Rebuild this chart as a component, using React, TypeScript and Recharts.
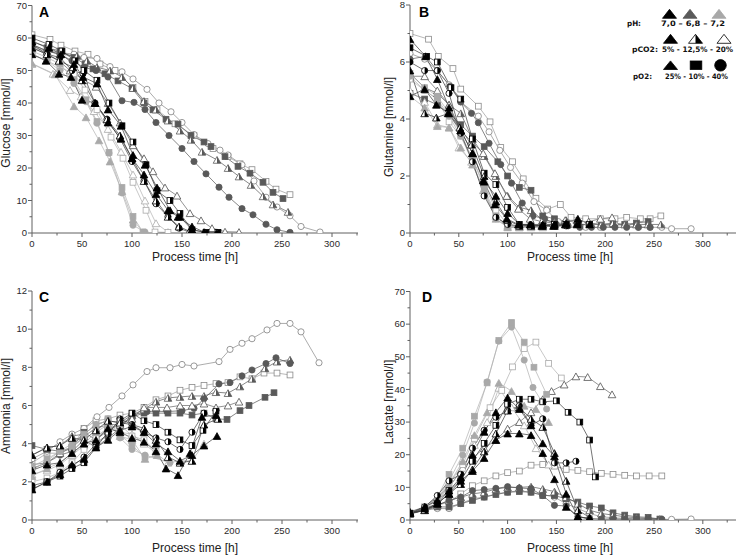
import React from 'react';
import { LineChart, Line, XAxis, YAxis } from 'recharts';

type P = [number, number];

// ---------- A: Glucose ----------
const A_openCirc: P[] = [[0,57],[15,56],[29,55.5],[42,55],[52,54],[65,53.7],[78,51.2],[90,49.6],[101,47.4],[115,44.2],[127,40],[139,37.3],[150,34],[162,30.3],[176,27.5],[188,25.5],[196,24],[210,21],[222,16],[234,11],[245,8],[258,5.3],[269,2],[288,0.3]];
const A_lgOpenSqSlow: P[] = [[0,61],[18,59.6],[29,57.8],[43,56],[56,55],[68,52],[83,50],[101,44.8],[113,40.5],[125,37.9],[143,33.6],[162,30],[181,26],[196,23.5],[208,21.3],[220,19.5],[234,15.9],[244,13.5],[258,11.8]];
const A_dgSq: P[] = [[0,59],[15,57],[28,56],[42,54],[53,52],[61,50.5],[73,49],[86,46.8],[100,44.5],[112,40],[121,37.9],[134,35],[146,33.5],[159,30],[172,28],[179,26.6],[193,23.5],[206,20.5],[218,18.4],[231,15.6],[241,12.5],[251,10.6]];
const A_dgCirc: P[] = [[0,58],[15,56],[28,55],[40,53],[52,51],[64,50],[76,48],[90,40.7],[102,40.2],[113,38],[124,34],[137,30],[150,26],[162,22],[174,18.2],[187,14.1],[197,11],[210,7.5],[221,5.6],[234,2.7],[245,1],[258,0.2]];
const A_dgHalfTri: P[] = [[0,58],[15,56],[28,55],[45,54.5],[55,53],[65,51],[78,50],[90,48],[101,44.6],[112,40.6],[124,38],[136,34.6],[148,31.5],[159,28.7],[170,25],[185,22.5],[196,20],[207,17.4],[219,14.8],[231,11.3],[241,8.8],[256,6.5]];
const A_dgOpenTri: P[] = [[0,57],[15,55],[27,53],[38,50],[52,47],[64,45],[76,40],[88,34],[101,27],[112,23],[121,19],[133,14],[145,11.5],[158,6.1],[169,3.9],[180,1.5],[193,0.4],[207,0.3]];
const A_lgOpenTri: P[] = [[0,52],[21,49],[38,44],[49,42],[62,37.5],[76,32],[89,25],[101,18],[113,10],[124,3],[136,0.3]];
const A_lgOpenSq: P[] = [[0,55],[15,53],[28,51],[42,49],[53,44],[65,38],[79,29.5],[91,23],[101,15.6],[114,7],[123,0.3],[136,0.2]];
const A_lgTri: P[] = [[0,52.2],[23,48.8],[42,39],[54,35.6],[67,28.5],[78,22],[90,12.8],[101,4.1],[111,0.3]];
const A_lgCirc: P[] = [[0,55],[15,53],[28,50],[42,46],[54,40.4],[65,33.8],[77,24.6],[90,12.3],[101,2.4],[113,0.3]];
const A_lgSq: P[] = [[0,56],[15,54],[28,52],[42,47],[54,41],[65,34.3],[77,24.8],[90,14],[101,5.1],[111,0.3]];
const A_blkTri: P[] = [[0,59],[17,57],[29,55],[42,52],[51,48],[65,46],[76,38],[89,33],[101,24],[113,21],[125,14],[138,7],[148,5],[160,1],[173,0.2]];
const A_blkTri2: P[] = [[0,55],[14,53],[27,49],[39,48],[50,41],[63,40],[76,34],[89,29],[100,23],[112,18],[124,12],[136,7],[146,5],[160,2],[172,0.3],[185,0.2]];
const A_blkHalfTri: P[] = [[0,57],[15,55],[27,53],[41,51],[50,47],[63,40],[75,35],[88,30],[100,23],[112,16],[124,10],[136,5],[147,2],[159,0.3]];
const A_blkHalfSq: P[] = [[0,60],[17,58],[30,56],[43,53],[52,50],[65,47],[77,40],[90,33],[101,28],[114,21],[125,13],[138,10],[148,6],[160,1],[174,0.2],[186,0.2]];
const A_blkHalfCirc: P[] = [[0,58],[15,55],[28,54],[40,50],[51,49],[63,40],[75,35],[88,29],[100,22],[112,16],[124,9],[136,5],[147,1.5],[158,0.2]];

// ---------- B: Glutamine ----------
const B_lgOpenSqSlow: P[] = [[0,7.0],[19,6.8],[29,6.2],[44,5.77],[52,5.05],[70,4.45],[82,3.9],[93,3.0],[105,2.5],[116,1.9],[129,1.22],[141,0.84],[154,1.0],[165,0.55],[180,0.5],[195,0.5],[210,0.5],[222,0.55],[236,0.5],[246,0.5],[257,0.6]];
const B_openCirc: P[] = [[0,6.3],[15,6.1],[28,5.7],[40,5.2],[52,4.6],[70,4.1],[81,3.55],[92,2.9],[103,2.3],[115,1.75],[127,1.1],[140,0.8],[152,0.4],[165,0.3],[180,0.2],[195,0.2],[210,0.3],[222,0.25],[234,0.2],[246,0.2],[258,0.2],[268,0.15],[288,0.15]];
const B_dgCirc: P[] = [[0,6.1],[16,6.2],[28,5.7],[41,5.15],[52,4.6],[63,4.2],[70,3.87],[81,3.15],[93,2.4],[104,1.75],[115,1.05],[126,0.6],[138,0.5],[150,0.3],[162,0.25],[174,0.2],[186,0.2],[198,0.2],[210,0.2],[222,0.2],[234,0.2],[246,0.2]];
const B_dgSq: P[] = [[0,4.9],[15,4.7],[28,4.5],[40,4.2],[52,3.8],[64,3.4],[76,3.03],[90,2.5],[100,2.0],[112,1.6],[124,1.5],[136,0.6],[148,0.5],[160,0.35],[172,0.3],[184,0.3],[196,0.3],[208,0.3],[220,0.3],[232,0.35],[244,0.4]];
const B_dgHalfTri: P[] = [[0,5.6],[15,5.1],[28,4.9],[40,4.5],[52,4.2],[64,3.3],[76,2.7],[88,2.0],[100,1.3],[112,0.9],[124,0.8],[136,0.45],[148,0.4],[160,0.45],[172,0.45],[184,0.35],[196,0.3],[208,0.35],[220,0.3],[232,0.3],[244,0.3],[257,0.3]];
const B_dgOpenTri: P[] = [[0,5.5],[15,5.5],[28,5.0],[40,4.5],[52,3.6],[63,3.2],[75,2.8],[87,2.1],[99,1.3],[111,0.85],[123,0.5],[135,0.4],[147,0.35],[159,0.45],[171,0.45],[183,0.4],[195,0.5],[207,0.55]];
const B_lgOpenTri: P[] = [[0,5.0],[15,4.6],[28,3.8],[40,3.7],[50,3.0],[63,2.5],[75,1.5],[88,0.6],[100,0.25],[112,0.2],[124,0.2],[136,0.2]];
const B_lgOpenSq: P[] = [[0,5.4],[15,5.0],[28,4.7],[40,3.9],[52,3.4],[64,2.6],[76,1.7],[88,0.8],[100,0.3],[112,0.2],[124,0.2],[136,0.2]];
const B_lgTri: P[] = [[0,4.8],[15,4.4],[28,3.75],[40,3.7],[52,3.0],[64,2.4],[76,1.5],[88,0.5],[100,0.2],[112,0.2]];
const B_lgCirc: P[] = [[0,5.5],[15,5.0],[28,4.7],[40,4.1],[52,3.4],[64,2.5],[76,1.4],[88,0.5],[100,0.2],[112,0.2]];
const B_lgSq: P[] = [[0,5.6],[15,5.1],[28,4.8],[40,4.2],[52,3.5],[64,2.6],[76,1.6],[88,0.6],[100,0.2],[112,0.2]];
const B_blkTri: P[] = [[0,6.8],[16,6.2],[28,5.4],[40,4.4],[52,3.6],[64,2.8],[76,1.8],[88,1.3],[100,0.7],[112,0.3],[124,0.3],[136,0.3],[148,0.3],[160,0.35],[172,0.5],[184,0.3]];
const B_blkTri2: P[] = [[0,4.8],[15,5.05],[27,4.5],[39,4.2],[52,3.6],[64,2.8],[75,1.85],[87,1.0],[99,0.5],[111,0.3],[123,0.3],[135,0.25],[147,0.25],[159,0.3],[171,0.3]];
const B_blkHalfTri: P[] = [[0,5.7],[15,4.2],[27,4.05],[40,4.2],[51,3.7],[63,3.1],[76,2.0],[88,1.1],[100,0.45],[112,0.25],[124,0.25],[136,0.25],[148,0.25],[160,0.3]];
const B_blkHalfSq: P[] = [[0,6.5],[17,6.2],[28,6.0],[42,5.1],[52,4.7],[64,3.3],[76,2.1],[88,1.7],[100,0.9],[112,0.3],[124,0.25],[136,0.25],[148,0.3],[160,0.3],[172,0.3],[184,0.3]];
const B_blkHalfCirc: P[] = [[0,6.0],[15,5.7],[28,5.7],[40,4.9],[52,3.5],[64,2.5],[76,1.3],[88,0.55],[100,0.3],[112,0.25],[124,0.25],[136,0.25],[148,0.25],[160,0.25]];

// ---------- C: Ammonia ----------
const C_openCirc: P[] = [[0,3.2],[15,3.6],[28,4.1],[40,4.5],[52,4.8],[65,5.41],[77,5.9],[90,6.5],[101,7.08],[115,7.78],[124,7.98],[138,7.98],[150,8.15],[162,8.07],[187,8.3],[198,8.94],[210,9.26],[220,9.5],[235,9.96],[245,10.3],[258,10.3],[269,9.86],[287,8.24]];
const C_dgCirc: P[] = [[0,2.7],[15,3.0],[28,3.4],[40,3.6],[52,4.2],[64,3.8],[76,4.3],[88,4.8],[100,5.5],[115,5.68],[124,5.7],[135,5.68],[150,5.73],[162,5.85],[172,6.35],[187,7.13],[198,7.2],[210,7.55],[220,7.86],[234,8.2],[244,8.5],[258,8.2]];
const C_dgSq: P[] = [[0,3.9],[15,3.7],[28,3.6],[40,3.8],[52,4.6],[64,4.2],[76,4.7],[88,5.0],[100,5.4],[112,5.6],[124,5.6],[136,5.6],[148,5.6],[160,5.5],[172,5.6],[184,5.3],[195,5.27],[208,5.73],[217,6.0],[233,6.43],[242,6.67]];
const C_lgOpenSqSlow: P[] = [[0,3.0],[15,3.5],[28,3.5],[40,3.8],[52,4.8],[64,5.2],[76,5.3],[88,5.5],[100,5.6],[112,5.9],[124,6.3],[136,6.5],[148,6.8],[160,6.95],[172,7.05],[184,7.15],[196,7.2],[208,7.5],[220,7.4],[232,7.7],[245,7.7],[258,7.6]];
const C_dgHalfTri: P[] = [[0,3.4],[15,3.8],[28,3.9],[40,4.4],[52,4.5],[64,5.0],[76,5.2],[88,5.1],[100,5.5],[112,5.8],[124,6.2],[136,6.4],[148,6.45],[160,6.5],[172,6.5],[184,6.7],[196,6.65],[208,7.0],[220,7.4],[233,7.95],[245,8.3],[258,8.4]];
const C_dgOpenTri: P[] = [[0,2.9],[15,3.0],[28,3.5],[40,3.8],[52,4.4],[64,4.8],[76,5.0],[88,5.0],[100,5.3],[112,5.9],[124,5.9],[135,5.9],[148,6.0],[160,6.0],[172,6.1],[184,5.9],[196,6.0],[207,6.2]];
const C_lgCirc: P[] = [[0,2.6],[15,3.1],[28,3.6],[40,3.8],[52,4.3],[64,4.9],[76,5.3],[88,4.3],[100,3.7],[113,3.4],[138,3.0]];
const C_lgSq: P[] = [[0,2.8],[15,3.2],[28,3.6],[40,4.0],[52,4.5],[64,5.0],[76,5.2],[88,4.5],[100,3.9],[113,3.3]];
const C_lgTri: P[] = [[0,2.3],[15,2.7],[28,3.0],[40,3.5],[52,4.0],[64,4.6],[76,5.0],[88,4.4],[100,4.2],[113,3.2],[125,3.4]];
const C_lgOpenSq: P[] = [[0,2.0],[15,2.2],[28,2.5],[40,3.0],[52,3.7],[64,4.3],[76,4.8],[88,5.0],[100,4.4],[112,4.2],[124,3.6]];
const C_lgOpenTri: P[] = [[0,2.4],[15,2.6],[28,2.9],[40,3.4],[52,3.9],[64,4.4],[76,4.8],[88,4.6],[100,4.5],[112,4.0],[124,3.5],[136,3.0],[148,3.1],[160,3.1],[172,4.0]];
const C_blkTri: P[] = [[0,2.6],[15,2.9],[28,3.0],[40,3.5],[52,4.0],[64,4.2],[76,4.8],[88,4.6],[100,4.3],[112,4.1],[124,3.6],[134,2.7],[146,2.35],[158,3.5],[170,5.4],[184,5.5]];
const C_blkTri2: P[] = [[0,1.6],[15,2.0],[28,2.4],[40,2.9],[52,3.2],[64,3.8],[76,4.2],[88,4.7],[100,4.9],[112,4.6],[124,4.0],[136,3.6],[148,3.1],[160,3.4],[172,3.9],[185,4.4]];
const C_blkHalfTri: P[] = [[0,3.4],[15,3.8],[28,3.9],[40,4.3],[52,4.2],[64,4.7],[76,5.2],[88,5.1],[100,5.0],[112,4.8],[124,4.2],[136,3.3],[148,3.0],[160,3.1],[172,5.0],[186,5.3]];
const C_blkHalfSq: P[] = [[0,1.6],[15,2.0],[28,2.3],[40,2.7],[52,3.0],[64,3.8],[76,4.6],[88,5.2],[100,5.6],[112,5.2],[124,5.0],[136,4.6],[148,4.2],[160,3.9],[171,4.7],[184,5.7]];
const C_blkHalfCirc: P[] = [[0,1.8],[15,2.0],[28,2.5],[40,2.8],[52,3.3],[64,4.0],[76,4.5],[88,5.3],[100,5.0],[112,4.6],[124,4.3],[136,4.1],[148,3.7],[160,4.6],[172,5.6]];

// ---------- D: Lactate ----------
const D_dgCirc: P[] = [[0,2],[15,3],[28,4.5],[40,6],[52,7],[64,9],[76,9.3],[88,9.7],[100,10.2],[112,9.8],[124,9.6],[136,7.5],[148,4.5],[160,4.3],[172,1],[184,0.5],[196,0.3],[208,0.3],[220,0.3],[232,0.3],[244,0.3],[258,0.2]];
const D_dgSq: P[] = [[0,1.8],[15,3],[28,4],[40,4],[52,5],[64,6],[76,7],[88,7.8],[100,8.5],[112,8.7],[124,8.5],[136,7.5],[148,7.5],[160,6.5],[172,5.5],[184,4.3],[196,3.7],[208,2.2],[220,1.5],[232,1],[244,0.8],[256,0.3]];
const D_dgHalfTri: P[] = [[0,2],[15,3],[28,4.5],[40,6],[52,7],[64,8],[76,8.5],[88,9.5],[100,10],[112,10],[124,10.2],[136,9.5],[148,8.7],[160,7],[172,5],[184,3],[196,2],[208,1.5],[220,1],[232,0.7],[244,0.5],[256,0.3]];
const D_openCirc: P[] = [[0,2],[15,3],[28,3.5],[40,3.5],[52,5],[64,6.5],[76,7],[88,8],[100,8.5],[112,9],[124,8.5],[136,7.8],[148,7],[160,5],[172,3.5],[184,2],[196,1],[208,0.7],[220,0.5],[232,0.3],[244,0.3],[258,0.2],[268,0.2],[288,0.3]];
const D_lgOpenSqSlow: P[] = [[0,2],[15,3.5],[28,4.5],[40,5.5],[52,8],[64,10.5],[76,12],[88,13.5],[100,14.5],[112,15],[124,16.8],[136,17],[148,16.5],[160,15.5],[172,15.2],[184,14.8],[196,14.3],[208,14],[220,13.7],[232,13.5],[245,13.5],[258,13.5]];
const D_dgOpenTri: P[] = [[0,2],[15,4],[28,7],[40,10],[52,15],[64,19],[76,22],[88,24.5],[100,28],[112,30],[124,33],[136,37],[145,39.5],[158,41.5],[170,44],[182,43.8],[195,41],[207,38.5]];
const D_lgSq: P[] = [[0,2.2],[15,4],[28,7],[40,14],[54,22],[66,31.8],[79,42],[91,55],[104,60.5],[117,54.5],[127,46.8],[140,38.5]];
const D_lgCirc: P[] = [[0,2],[15,4],[28,6.5],[40,12],[54,19.9],[66,29.7],[79,42.3],[91,54.8],[104,59.1],[117,49],[126,40.6],[140,34]];
const D_lgOpenSq: P[] = [[0,2],[15,4],[28,6],[40,11],[54,17],[66,25],[82,34.4],[94,39.7],[105,46.9],[117,52.5],[129,54.5],[142,48],[155,43.5]];
const D_lgTri: P[] = [[0,2],[15,4],[28,6.5],[40,11],[54,18],[66,26],[79,33],[91,42],[104,39.5],[117,35],[129,34],[142,30]];
const D_lgOpenTri: P[] = [[0,2],[15,3.5],[28,6],[40,10],[54,16],[66,23],[79,30],[91,40.5],[104,34.5],[117,29],[129,22],[142,17]];
const D_blkHalfSq: P[] = [[0,2],[15,3],[28,5],[40,9],[52,12],[64,18],[76,23.5],[88,29],[100,35.5],[112,37],[124,37],[136,36.2],[150,36.5],[162,33],[174,30],[184,24.5],[190,13.2]];
const D_blkTri: P[] = [[0,2],[15,3.5],[28,5],[40,8],[52,12],[64,15],[76,19],[88,24.5],[100,26.5],[112,26.5],[124,26],[136,20.5],[148,12.5],[160,4],[172,1],[184,0.5]];
const D_blkTri2: P[] = [[0,2.5],[15,4],[28,6],[40,9],[52,13],[64,20],[76,27],[88,33],[100,37.5],[112,34],[124,29],[136,23.5],[148,19.5],[160,8],[172,1],[184,0.3]];
const D_blkHalfTri: P[] = [[0,2.2],[15,3],[28,5],[40,8],[52,11],[64,15.5],[76,21],[88,26.5],[100,33.5],[112,34.5],[124,31],[136,28.5],[148,20.5],[160,12],[172,3],[184,0.8]];
const D_blkHalfCirc: P[] = [[0,2],[15,4],[28,7.5],[40,12],[52,14],[64,22],[76,27.5],[88,31.5],[100,33.5],[112,35],[124,29],[136,31],[148,17.5],[160,17.5],[170,18]];

// ---------- ticks / labels ----------
const xTicks = [0, 25, 50, 75, 100, 125, 150, 175, 200, 225, 250, 275, 300, 325];
const ticksA = [0, 5, 10, 15, 20, 25, 30, 35, 40, 45, 50, 55, 60, 65, 70];
const ticksB = [0, 1, 2, 3, 4, 5, 6, 7, 8];
const ticksC = [0, 1, 2, 3, 4, 5, 6, 7, 8, 9, 10, 11, 12];
const ticksD = ticksA;
const xTitle = 'Process time [h]';

const FONT = '"Liberation Sans", Arial, Helvetica, sans-serif';
const BLK = '#000000';
const DG = '#595959';
const LG = '#a9a9a9';
const OG = '#808080';
const AX = '#606060';

type Shape = 'tri' | 'sq' | 'circ';
type Fill = 'full' | 'half' | 'open';
type Sty = { shape: Shape; fill: Fill; color: string; line: string };

const STY: Record<string, Sty> = {
  blkTri: { shape: 'tri', fill: 'full', color: BLK, line: '#3a3a3a' },
  blkTri2: { shape: 'tri', fill: 'full', color: BLK, line: '#3a3a3a' },
  blkHalfTri: { shape: 'tri', fill: 'half', color: BLK, line: '#3a3a3a' },
  blkHalfSq: { shape: 'sq', fill: 'half', color: BLK, line: '#3a3a3a' },
  blkHalfCirc: { shape: 'circ', fill: 'half', color: BLK, line: '#3a3a3a' },
  dgCirc: { shape: 'circ', fill: 'full', color: DG, line: '#555' },
  dgSq: { shape: 'sq', fill: 'full', color: DG, line: '#555' },
  dgHalfTri: { shape: 'tri', fill: 'half', color: DG, line: '#555' },
  dgOpenTri: { shape: 'tri', fill: 'open', color: '#505050', line: '#666' },
  lgCirc: { shape: 'circ', fill: 'full', color: LG, line: '#b0b0b0' },
  lgSq: { shape: 'sq', fill: 'full', color: LG, line: '#b0b0b0' },
  lgTri: { shape: 'tri', fill: 'full', color: LG, line: '#b0b0b0' },
  lgOpenSq: { shape: 'sq', fill: 'open', color: LG, line: '#b0b0b0' },
  lgOpenTri: { shape: 'tri', fill: 'open', color: LG, line: '#b0b0b0' },
  lgOpenSqSlow: { shape: 'sq', fill: 'open', color: '#8a8a8a', line: '#999' },
  openCirc: { shape: 'circ', fill: 'open', color: OG, line: '#888' },
};

function drawShape(shape: Shape, fill: Fill, color: string, cx: number, cy: number, hw: number, hh: number, key?: any) {
  const sw = 0.8;
  const main = fill === 'full' ? color : '#ffffff';
  let base: any = null;
  let half: any = null;
  if (shape === 'tri') {
    const top = cy - hh;
    const bot = cy + hh;
    base = <polygon points={`${cx},${top} ${cx + hw},${bot} ${cx - hw},${bot}`} fill={main} stroke={color} strokeWidth={sw} strokeLinejoin="miter" />;
    if (fill === 'half') half = <polygon points={`${cx},${top} ${cx + hw},${bot} ${cx},${bot}`} fill={color} stroke="none" />;
  } else if (shape === 'sq') {
    base = <rect x={cx - hw} y={cy - hh} width={2 * hw} height={2 * hh} fill={main} stroke={color} strokeWidth={sw} />;
    if (fill === 'half') half = <rect x={cx} y={cy - hh} width={hw} height={2 * hh} fill={color} stroke="none" />;
  } else {
    base = <circle cx={cx} cy={cy} r={hw} fill={main} stroke={color} strokeWidth={sw} />;
    if (fill === 'half') half = <path d={`M${cx},${cy - hw} A${hw},${hw} 0 0 1 ${cx},${cy + hw} Z`} fill={color} stroke="none" />;
  }
  return (
    <g key={key}>
      {base}
      {half}
    </g>
  );
}

function markerDims(shape: Shape): [number, number] {
  if (shape === 'tri') return [3.8, 3.4];
  if (shape === 'sq') return [2.9, 2.9];
  return [3.1, 3.1];
}

type Series = { id: string; style: string; pts: P[] };

function XTick(props: any) {
  const { x, y, payload } = props;
  const v = payload.value;
  const major = v % 50 === 0;
  return (
    <g>
      <line x1={x} x2={x} y1={y} y2={y + (major ? 4 : 2.5)} stroke={AX} strokeWidth={1} />
      {major && (
        <text x={x} y={y + 14} textAnchor="middle" fontSize={9.5} fill="#2a2a2a" fontFamily={FONT}>
          {v}
        </text>
      )}
    </g>
  );
}

function makeYTick(majorStep: number) {
  return function YTick(props: any) {
    const { x, y, payload } = props;
    const v = payload.value;
    const major = Math.abs(v / majorStep - Math.round(v / majorStep)) < 1e-6;
    return (
      <g>
        <line x1={x} x2={x - (major ? 4 : 2.5)} y1={y} y2={y} stroke={AX} strokeWidth={1} />
        {major && (
          <text x={x - 5} y={y} dy="0.35em" textAnchor="end" fontSize={9.5} fill="#2a2a2a" fontFamily={FONT}>
            {v}
          </text>
        )}
      </g>
    );
  };
}

type PanelProps = {
  left: number;
  top: number;
  width: number;
  height: number;
  marginTop: number;
  marginRight: number;
  xAxisHeight: number;
  xMax: number;
  yMax: number;
  yTicks: number[];
  yMajor: number;
  series: Series[];
};

function Panel(p: PanelProps) {
  const YT = makeYTick(p.yMajor);
  return (
    <div style={{ position: 'absolute', left: p.left, top: p.top, width: p.width, height: p.height }}>
      <LineChart width={p.width} height={p.height} margin={{ top: p.marginTop, right: p.marginRight, bottom: 0, left: 0 }}>
        <XAxis
          type="number"
          dataKey="x"
          domain={[0, p.xMax]}
          ticks={xTicks}
          interval={0}
          tickSize={0}
          tickMargin={0}
          tickLine={false}
          axisLine={{ stroke: AX, strokeWidth: 1 }}
          tick={<XTick />}
          height={p.xAxisHeight}
          allowDataOverflow
        />
        <YAxis
          type="number"
          dataKey="y"
          domain={[0, p.yMax]}
          ticks={p.yTicks}
          interval={0}
          tickSize={0}
          tickMargin={0}
          tickLine={false}
          axisLine={{ stroke: AX, strokeWidth: 1 }}
          tick={<YT />}
          width={32}
          allowDataOverflow
        />
        {p.series.map((s) => {
          const st = STY[s.style];
          const [hw, hh] = markerDims(st.shape);
          const data = s.pts.map(([x, y]) => ({ x, y }));
          return (
            <Line
              key={s.id}
              name={s.id}
              data={data}
              dataKey="y"
              type="linear"
              stroke={st.line}
              strokeWidth={0.7}
              isAnimationActive={false}
              activeDot={false}
              legendType="none"
              dot={(dp: any) => {
                if (dp.cx == null || dp.cy == null) return <g key={`${s.id}-${dp.index}`} />;
                return drawShape(st.shape, st.fill, st.color, dp.cx, dp.cy, hw, hh, `${s.id}-${dp.index}`);
              }}
            />
          );
        })}
      </LineChart>
    </div>
  );
}

const seriesA: Series[] = [
  { id: 'a1', style: 'lgOpenSqSlow', pts: A_lgOpenSqSlow },
  { id: 'a2', style: 'openCirc', pts: A_openCirc },
  { id: 'a3', style: 'dgSq', pts: A_dgSq },
  { id: 'a4', style: 'dgHalfTri', pts: A_dgHalfTri },
  { id: 'a5', style: 'dgCirc', pts: A_dgCirc },
  { id: 'a6', style: 'dgOpenTri', pts: A_dgOpenTri },
  { id: 'a7', style: 'lgOpenTri', pts: A_lgOpenTri },
  { id: 'a8', style: 'lgOpenSq', pts: A_lgOpenSq },
  { id: 'a9', style: 'lgTri', pts: A_lgTri },
  { id: 'a10', style: 'lgCirc', pts: A_lgCirc },
  { id: 'a11', style: 'lgSq', pts: A_lgSq },
  { id: 'a12', style: 'blkHalfCirc', pts: A_blkHalfCirc },
  { id: 'a13', style: 'blkHalfSq', pts: A_blkHalfSq },
  { id: 'a14', style: 'blkHalfTri', pts: A_blkHalfTri },
  { id: 'a15', style: 'blkTri2', pts: A_blkTri2 },
  { id: 'a16', style: 'blkTri', pts: A_blkTri },
];

const seriesB: Series[] = [
  { id: 'b1', style: 'lgOpenSqSlow', pts: B_lgOpenSqSlow },
  { id: 'b2', style: 'openCirc', pts: B_openCirc },
  { id: 'b3', style: 'dgSq', pts: B_dgSq },
  { id: 'b4', style: 'dgHalfTri', pts: B_dgHalfTri },
  { id: 'b5', style: 'dgCirc', pts: B_dgCirc },
  { id: 'b6', style: 'dgOpenTri', pts: B_dgOpenTri },
  { id: 'b7', style: 'lgOpenTri', pts: B_lgOpenTri },
  { id: 'b8', style: 'lgOpenSq', pts: B_lgOpenSq },
  { id: 'b9', style: 'lgTri', pts: B_lgTri },
  { id: 'b10', style: 'lgCirc', pts: B_lgCirc },
  { id: 'b11', style: 'lgSq', pts: B_lgSq },
  { id: 'b12', style: 'blkHalfCirc', pts: B_blkHalfCirc },
  { id: 'b13', style: 'blkHalfSq', pts: B_blkHalfSq },
  { id: 'b14', style: 'blkHalfTri', pts: B_blkHalfTri },
  { id: 'b15', style: 'blkTri2', pts: B_blkTri2 },
  { id: 'b16', style: 'blkTri', pts: B_blkTri },
];

const seriesC: Series[] = [
  { id: 'c1', style: 'lgOpenSqSlow', pts: C_lgOpenSqSlow },
  { id: 'c2', style: 'openCirc', pts: C_openCirc },
  { id: 'c3', style: 'dgSq', pts: C_dgSq },
  { id: 'c4', style: 'dgHalfTri', pts: C_dgHalfTri },
  { id: 'c5', style: 'dgCirc', pts: C_dgCirc },
  { id: 'c6', style: 'dgOpenTri', pts: C_dgOpenTri },
  { id: 'c7', style: 'lgOpenTri', pts: C_lgOpenTri },
  { id: 'c8', style: 'lgOpenSq', pts: C_lgOpenSq },
  { id: 'c9', style: 'lgTri', pts: C_lgTri },
  { id: 'c10', style: 'lgCirc', pts: C_lgCirc },
  { id: 'c11', style: 'lgSq', pts: C_lgSq },
  { id: 'c12', style: 'blkHalfCirc', pts: C_blkHalfCirc },
  { id: 'c13', style: 'blkHalfSq', pts: C_blkHalfSq },
  { id: 'c14', style: 'blkHalfTri', pts: C_blkHalfTri },
  { id: 'c15', style: 'blkTri2', pts: C_blkTri2 },
  { id: 'c16', style: 'blkTri', pts: C_blkTri },
];

const seriesD: Series[] = [
  { id: 'd1', style: 'lgOpenSqSlow', pts: D_lgOpenSqSlow },
  { id: 'd2', style: 'openCirc', pts: D_openCirc },
  { id: 'd3', style: 'dgSq', pts: D_dgSq },
  { id: 'd4', style: 'dgHalfTri', pts: D_dgHalfTri },
  { id: 'd5', style: 'dgCirc', pts: D_dgCirc },
  { id: 'd6', style: 'dgOpenTri', pts: D_dgOpenTri },
  { id: 'd7', style: 'lgOpenTri', pts: D_lgOpenTri },
  { id: 'd8', style: 'lgOpenSq', pts: D_lgOpenSq },
  { id: 'd9', style: 'lgTri', pts: D_lgTri },
  { id: 'd10', style: 'lgCirc', pts: D_lgCirc },
  { id: 'd11', style: 'lgSq', pts: D_lgSq },
  { id: 'd12', style: 'blkHalfCirc', pts: D_blkHalfCirc },
  { id: 'd13', style: 'blkHalfSq', pts: D_blkHalfSq },
  { id: 'd14', style: 'blkHalfTri', pts: D_blkHalfTri },
  { id: 'd15', style: 'blkTri2', pts: D_blkTri2 },
  { id: 'd16', style: 'blkTri', pts: D_blkTri },
];

const LFONT = '"DejaVu Sans", Verdana, sans-serif';

function Overlay() {
  const t = (x: number, y: number, s: string, extra: any = {}) => (
    <text x={x} y={y} fontFamily={FONT} fontSize={12} fill="#222" {...extra}>
      {s}
    </text>
  );
  const lt = (x: number, y: number, s: string, len: number) => (
    <text x={x} y={y} fontFamily={LFONT} fontSize={7.5} fontWeight="bold" fill="#111" textLength={len} lengthAdjust="spacingAndGlyphs">
      {s}
    </text>
  );
  return (
    <svg width={738} height={556} style={{ position: 'absolute', left: 0, top: 0, pointerEvents: 'none' }}>
      {/* panel letters */}
      {t(39, 17, 'A', { fontSize: 14, fontWeight: 'bold', fill: '#000' })}
      {t(419, 17, 'B', { fontSize: 14, fontWeight: 'bold', fill: '#000' })}
      {t(39, 302, 'C', { fontSize: 14, fontWeight: 'bold', fill: '#000' })}
      {t(422, 302, 'D', { fontSize: 14, fontWeight: 'bold', fill: '#000' })}
      {/* x titles */}
      {t(195, 260.5, xTitle, { textAnchor: 'middle' })}
      {t(570, 260.5, xTitle, { textAnchor: 'middle' })}
      {t(195, 552, xTitle, { textAnchor: 'middle' })}
      {t(570, 552, xTitle, { textAnchor: 'middle' })}
      {/* y titles */}
      <text transform="translate(10,123) rotate(-90)" textAnchor="middle" fontFamily={FONT} fontSize={12} fill="#222">Glucose [mmol/l]</text>
      <text transform="translate(393,127) rotate(-90)" textAnchor="middle" fontFamily={FONT} fontSize={12} fill="#222">Glutamine [mmol/l]</text>
      <text transform="translate(10,406) rotate(-90)" textAnchor="middle" fontFamily={FONT} fontSize={12} fill="#222">Ammonia [mmol/l]</text>
      <text transform="translate(393,402) rotate(-90)" textAnchor="middle" fontFamily={FONT} fontSize={12} fill="#222">Lactate [mmol/l]</text>
      {/* legend */}
      {drawShape('tri', 'full', '#000', 669.5, 13.8, 7, 4.5, 'l1')}
      {drawShape('tri', 'full', '#5a5a5a', 690, 13.8, 7, 4.5, 'l2')}
      {drawShape('tri', 'full', '#a8a8a8', 719, 13.8, 7, 4.5, 'l3')}
      {lt(627, 25.5, 'pH:', 14)}
      {lt(661, 25.5, '7,0 \u2013 6,8 \u2013 7,2', 64)}
      {drawShape('tri', 'full', '#000', 670.5, 38.8, 7, 4.5, 'l4')}
      {drawShape('tri', 'half', '#000', 695.5, 38.8, 7, 4.5, 'l5')}
      {drawShape('tri', 'open', '#000', 724, 38.8, 7, 4.5, 'l6')}
      {lt(632, 51.5, 'pCO2:', 26)}
      {lt(662, 51.5, '5% - 12,5% - 20%', 71)}
      {drawShape('tri', 'full', '#000', 670.5, 65.2, 7, 4.3, 'l7')}
      {drawShape('sq', 'full', '#000', 696, 65.2, 5.8, 4.2, 'l8')}
      {drawShape('circ', 'full', '#000', 720.5, 65.3, 5.8, 5.8, 'l9')}
      {lt(633, 79, 'pO2:', 19)}
      {lt(665, 79, '25% - 10% - 40%', 63)}
    </svg>
  );
}

export default function App() {
  return (
    <div style={{ position: 'absolute', left: 0, top: 0, width: 738, height: 556, background: '#fff', overflow: 'hidden' }}>
      <Panel left={0} top={0} width={370} height={260} marginTop={5.5} marginRight={12} xAxisHeight={27} xMax={326} yMax={70} yTicks={ticksA} yMajor={10} series={seriesA} />
      <Panel left={378} top={0} width={360} height={260} marginTop={5} marginRight={2} xAxisHeight={27} xMax={334} yMax={8} yTicks={ticksB} yMajor={2} series={seriesB} />
      <Panel left={0} top={280} width={370} height={276} marginTop={11} marginRight={12} xAxisHeight={36} xMax={326} yMax={12} yTicks={ticksC} yMajor={2} series={seriesC} />
      <Panel left={378} top={280} width={360} height={276} marginTop={11.5} marginRight={2} xAxisHeight={36} xMax={334} yMax={70} yTicks={ticksD} yMajor={10} series={seriesD} />
      <Overlay />
    </div>
  );
}
